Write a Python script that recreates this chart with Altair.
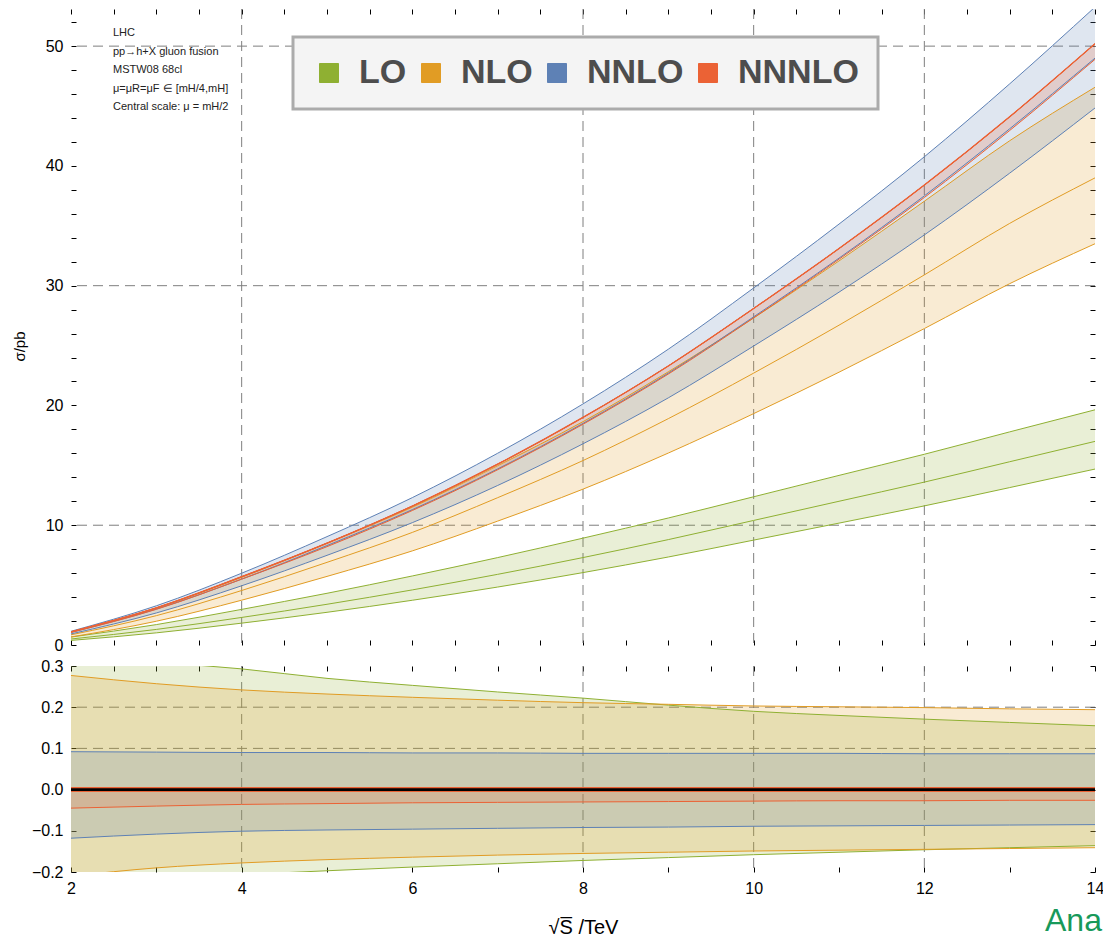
import altair as alt
import pandas as pd

# ---------------- data ----------------
sqrt_s = [2, 3, 4, 5, 6, 7, 8, 9, 10, 11, 12, 13, 14]
orders = ["LO", "NLO", "NNLO", "NNNLO"]
colors = ["#8FB032", "#E19C24", "#5E81B5", "#EB6235"]

# central cross sections (pb)
lo_central = [0.5, 1.3, 2.3, 3.4, 4.6, 5.9, 7.3, 8.8, 10.4, 12.0, 13.6, 15.3, 17.0]
nlo_central = [0.85, 2.45, 4.55, 6.9, 9.4, 12.3, 15.4, 18.9, 22.7, 26.7, 30.9, 35.2, 39.0]
nnlo_central = [1.05, 3.0, 5.5, 8.3, 11.3, 14.7, 18.5, 22.7, 27.4, 32.3, 37.5, 43.1, 49.0]
nnnlo_central = [1.1, 3.1, 5.7, 8.5, 11.6, 15.1, 19.0, 23.3, 28.1, 33.1, 38.4, 44.1, 50.2]

# relative scale uncertainty (lower panel)
lo_up = [0.33, 0.31, 0.293, 0.27, 0.253, 0.237, 0.222, 0.205, 0.19, 0.18, 0.171, 0.163, 0.155]
lo_dn = [-0.235, -0.22, -0.207, -0.197, -0.188, -0.18, -0.172, -0.165, -0.158, -0.152, -0.146, -0.141, -0.136]
nlo_up = [0.277, 0.257, 0.242, 0.232, 0.224, 0.217, 0.211, 0.207, 0.203, 0.201, 0.199, 0.196, 0.194]
nlo_dn = [-0.21, -0.19, -0.178, -0.17, -0.164, -0.159, -0.155, -0.152, -0.149, -0.147, -0.145, -0.143, -0.141]
nnlo_up = [0.092, 0.091, 0.090, 0.090, 0.089, 0.089, 0.088, 0.088, 0.088, 0.088, 0.087, 0.087, 0.087]
nnlo_dn = [-0.118, -0.108, -0.101, -0.098, -0.096, -0.094, -0.092, -0.091, -0.089, -0.088, -0.087, -0.086, -0.085]
nnnlo_up = [0.0, 0.0, 0.0, 0.0, 0.0, 0.0, 0.0, 0.0, 0.0, 0.0, 0.0, 0.0, 0.0]
nnnlo_dn = [-0.045, -0.040, -0.036, -0.034, -0.032, -0.031, -0.030, -0.029, -0.028, -0.027, -0.027, -0.026, -0.026]
central_rel = [0.0, 0.0, 0.0, 0.0, 0.0, 0.0, 0.0, 0.0, 0.0, 0.0, 0.0, 0.0, 0.0]

x_ticks = [2, 2.5, 3, 3.5, 4, 4.5, 5, 5.5, 6, 6.5, 7, 7.5, 8, 8.5, 9, 9.5,
           10, 10.5, 11, 11.5, 12, 12.5, 13, 13.5, 14]
x_grid = [4, 8, 10, 12]
top_y_ticks = [0, 2, 4, 6, 8, 10, 12, 14, 16, 18, 20, 22, 24, 26, 28, 30,
               32, 34, 36, 38, 40, 42, 44, 46, 48, 50, 52]
top_y_grid = [10, 30, 50]
bot_y_ticks = [-0.2, -0.1, 0.0, 0.1, 0.2, 0.3]
bot_y_grid = [0.1, 0.2]

annotation_lines = [
    "LHC",
    "pp\u2192h+X gluon fusion",
    "MSTW08 68cl",
    "\u03bc=\u03bcR=\u03bcF \u2208 [mH/4,mH]",
    "Central scale: \u03bc = mH/2",
]

# ---------------- tables ----------------
centrals = [lo_central, nlo_central, nnlo_central, nnnlo_central]
ups = [lo_up, nlo_up, nnlo_up, nnnlo_up]
dns = [lo_dn, nlo_dn, nnlo_dn, nnnlo_dn]

rows_top, rows_bot = [], []
for name, cen, up, dn in zip(orders, centrals, ups, dns):
    for s, c, u, d in zip(sqrt_s, cen, up, dn):
        rows_top.append({"s": s, "order": name, "central": c,
                         "upper": c * (1 + u), "lower": c * (1 + d)})
        rows_bot.append({"s": s, "order": name, "up": u, "dn": d})
top_df = pd.DataFrame(rows_top)
bot_df = pd.DataFrame(rows_bot)
zero_df = pd.DataFrame({"s": sqrt_s, "zero": central_rel})

# ---------------- styling ----------------
FONT = "Liberation Sans"
W, H_TOP, H_BOT = 1024, 636, 206
GRID = "#7f7f7f"
INTERP = "monotone"

xs = alt.Scale(domain=[2, 14], nice=False, zero=False)
ys_top = alt.Scale(domain=[0, 53.1], nice=False, zero=False)
ys_bot = alt.Scale(domain=[-0.2, 0.3], nice=False, zero=False)
cs = alt.Scale(domain=orders, range=colors)


def ax(orient, values, labels=True, **kw):
    d = dict(orient=orient, values=values, labels=labels, title=None,
             domain=False, grid=False, ticks=True, tickSize=5,
             tickColor="#000", tickWidth=1, offset=-5,
             labelFont=FONT, labelFontSize=16, labelColor="#000",
             labelPadding=8, labelOverlap=False, labelFlush=False)
    d.update(kw)
    return alt.Axis(**d)


xb_top = ax("bottom", x_ticks, labels=False)
xt_top = ax("top", x_ticks, labels=False)
yl_top = ax("left", top_y_ticks, format="d",
            labelExpr="datum.value % 10 === 0 ? datum.label : ''",
            title="\u03c3/pb", titleFont=FONT, titleFontSize=15,
            titleFontWeight="normal", titleColor="#000", titlePadding=18,
            titleY=337)
yr_top = ax("right", top_y_ticks, labels=False)

xb_bot = ax("bottom", x_ticks, format="d",
            labelExpr="datum.value % 2 === 0 ? datum.label : ''",
            title="\u221aS\u0305 /TeV", titleFont=FONT, titleFontSize=20,
            titleFontWeight="normal", titleColor="#000", titlePadding=21)
xt_bot = ax("top", x_ticks, labels=False)
yl_bot = ax("left", bot_y_ticks, format=".1f")
yr_bot = ax("right", bot_y_ticks, labels=False)

legend = alt.Legend(
    orient="none", legendX=222, legendY=28, direction="horizontal",
    title=None, symbolType="square", symbolSize=361, symbolOpacity=1,
    symbolStrokeWidth=1, symbolStrokeColor="#9a9a9a",
    labelFont=FONT, labelFontSize=34,
    labelFontWeight="bold", labelColor="#4d4d4d", labelOffset=13,
    columnPadding=7, padding=19, fillColor="#f4f4f4",
    strokeColor="#ababab",
)

# ---------------- top panel ----------------
grid_v_top = alt.Chart(pd.DataFrame({"g": x_grid})).mark_rule(
    color=GRID, strokeDash=[10, 6], strokeWidth=1
).encode(x=alt.X("g:Q", scale=xs, axis=xb_top))

grid_h_top = alt.Chart(pd.DataFrame({"g": top_y_grid})).mark_rule(
    color=GRID, strokeDash=[10, 6], strokeWidth=1
).encode(y=alt.Y("g:Q", scale=ys_top, axis=yl_top))

areas_top = alt.Chart(top_df).mark_area(
    opacity=0.2, clip=True, interpolate=INTERP
).encode(
    x=alt.X("s:Q", scale=xs, axis=xb_top),
    y=alt.Y("lower:Q", scale=ys_top, axis=yl_top, stack=None),
    y2="upper:Q",
    color=alt.Color("order:N", scale=cs, sort=orders, legend=legend),
)

lines_top = alt.Chart(top_df).transform_fold(
    ["upper", "lower", "central"], as_=["edge", "val"]
).mark_line(strokeWidth=1, clip=True, interpolate=INTERP).encode(
    x=alt.X("s:Q", scale=xs, axis=xb_top),
    y=alt.Y("val:Q", scale=ys_top, axis=yl_top),
    color=alt.Color("order:N", scale=cs, legend=None),
    detail="edge:N",
)

texts_top = []
for i, line in enumerate(annotation_lines):
    texts_top.append(
        alt.Chart(pd.DataFrame({"t": [line]})).mark_text(
            align="left", baseline="middle", font=FONT, fontSize=11,
            color="#222"
        ).encode(x=alt.value(42), y=alt.value(24 + i * 18.6), text="t:N")
    )

carrier_top = alt.Chart(top_df).transform_filter(
    "datum.order == 'NNNLO'"
).mark_line(color="#EB6235", strokeWidth=1.3, clip=True, interpolate=INTERP).encode(
    x=alt.X("s:Q", scale=xs, axis=xt_top),
    y=alt.Y("upper:Q", scale=ys_top, axis=yr_top),
)

top_inner = alt.layer(grid_v_top, grid_h_top, areas_top, lines_top, *texts_top)
top_panel = alt.layer(top_inner, carrier_top).resolve_axis(
    x="independent", y="independent"
).properties(width=W, height=H_TOP)

# ---------------- bottom panel ----------------
grid_v_bot = alt.Chart(pd.DataFrame({"g": x_grid})).mark_rule(
    color=GRID, strokeDash=[10, 6], strokeWidth=1
).encode(x=alt.X("g:Q", scale=xs, axis=xb_bot))

grid_h_bot = alt.Chart(pd.DataFrame({"g": bot_y_grid})).mark_rule(
    color=GRID, strokeDash=[10, 6], strokeWidth=1
).encode(y=alt.Y("g:Q", scale=ys_bot, axis=yl_bot))

areas_bot = alt.Chart(bot_df).mark_area(
    opacity=0.2, clip=True, interpolate=INTERP
).encode(
    x=alt.X("s:Q", scale=xs, axis=xb_bot),
    y=alt.Y("dn:Q", scale=ys_bot, axis=yl_bot, stack=None),
    y2="up:Q",
    color=alt.Color("order:N", scale=cs, legend=None),
)

lines_bot = alt.Chart(bot_df).transform_fold(
    ["up", "dn"], as_=["edge", "val"]
).mark_line(strokeWidth=1, clip=True, interpolate=INTERP).encode(
    x=alt.X("s:Q", scale=xs, axis=xb_bot),
    y=alt.Y("val:Q", scale=ys_bot, axis=yl_bot),
    color=alt.Color("order:N", scale=cs, legend=None),
    detail="edge:N",
)

red_zero = alt.Chart(bot_df).transform_filter(
    "datum.order == 'NNNLO'"
).mark_line(color="#EB6235", strokeWidth=5, clip=True).encode(
    x=alt.X("s:Q", scale=xs, axis=xb_bot),
    y=alt.Y("up:Q", scale=ys_bot, axis=yl_bot),
)

watermark = alt.Chart(pd.DataFrame({"t": ["Ana"]})).mark_text(
    align="left", baseline="alphabetic", font=FONT, fontSize=32,
    color="#17995a"
).encode(x=alt.value(974), y=alt.value(265), text="t:N")

carrier_bot = alt.Chart(zero_df).mark_line(
    color="#000", strokeWidth=2.6, clip=True
).encode(
    x=alt.X("s:Q", scale=xs, axis=xt_bot),
    y=alt.Y("zero:Q", scale=ys_bot, axis=yr_bot),
)

bot_inner = alt.layer(grid_v_bot, grid_h_bot, areas_bot, lines_bot, red_zero, watermark)
bot_panel = alt.layer(bot_inner, carrier_bot).resolve_axis(
    x="independent", y="independent"
).properties(width=W, height=H_BOT)

chart = alt.vconcat(top_panel, bot_panel, spacing=5).resolve_legend(
    color="independent"
).properties(
    padding={"left": 4, "top": 0, "right": -1, "bottom": 0}
).configure_view(stroke=None).configure_legend(strokeWidth=3)

chart.save("out.html", embed_options={"renderer": "svg", "actions": False})
